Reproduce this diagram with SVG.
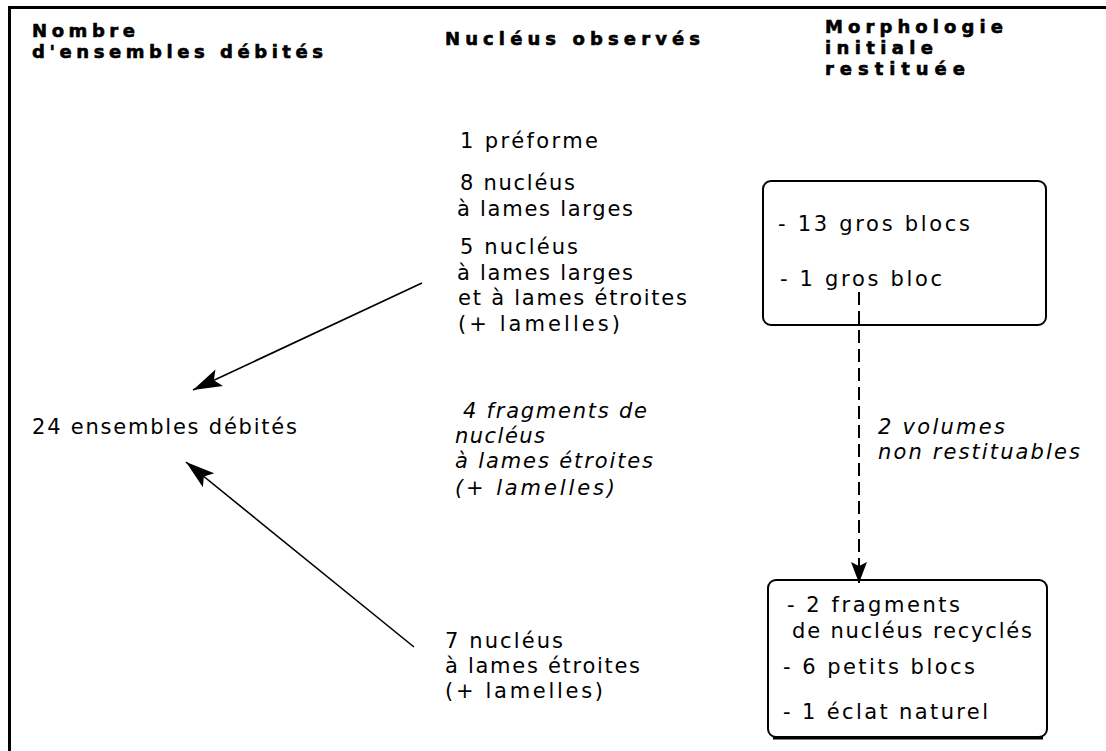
<svg xmlns="http://www.w3.org/2000/svg" width="1106" height="751" viewBox="0 0 1106 751">
<defs>
<style>
.h{font-family:"DejaVu Sans","Liberation Sans",sans-serif;font-weight:bold;font-size:18px;fill:#000;stroke:#000;stroke-width:0.6}
.t{font-family:"DejaVu Sans","Liberation Sans",sans-serif;font-size:21px;fill:#000}
.i{font-family:"DejaVu Sans","Liberation Sans",sans-serif;font-style:italic;font-size:21px;fill:#000}
.box{fill:none;stroke:#000;stroke-width:2}
.arr{stroke:#000;stroke-width:1.6;fill:none}
.dash{stroke:#000;stroke-width:2;fill:none;stroke-dasharray:13 6}
.frame{stroke:#000;stroke-width:3;fill:none}
</style>
<marker id="ah" markerUnits="userSpaceOnUse" markerWidth="32" markerHeight="22" refX="30" refY="11" orient="auto">
<path d="M30,11 L1,2 L7,11 L1,20 Z" fill="#000"/>
</marker>
<marker id="ahs" markerUnits="userSpaceOnUse" markerWidth="24" markerHeight="18" refX="22" refY="9" orient="auto">
<path d="M22,9 L1,1 L5,9 L1,17 Z" fill="#000"/>
</marker>
</defs>
<rect width="1106" height="751" fill="#fff"/>
<path class="frame" d="M9.5,751 V7.5 H1106"/>

<g id="headers">
<text class="h" x="32" y="37" textLength="103" lengthAdjust="spacing">Nombre</text>
<text class="h" x="32" y="58" textLength="291" lengthAdjust="spacing">d'ensembles débités</text>
<text class="h" x="445" y="45" textLength="255" lengthAdjust="spacing">Nucléus observés</text>
<text class="h" x="825" y="33" textLength="178" lengthAdjust="spacing">Morphologie</text>
<text class="h" x="825" y="54" textLength="108" lengthAdjust="spacing">initiale</text>
<text class="h" x="825" y="75" textLength="140" lengthAdjust="spacing">restituée</text>
</g>

<g id="total">
<text class="t" x="32" y="434" textLength="265" lengthAdjust="spacing">24 ensembles débités</text>
</g>

<g id="nucleus-top">
<text class="t" x="460" y="148" textLength="138" lengthAdjust="spacing">1 préforme</text>
<text class="t" x="460" y="190" textLength="115" lengthAdjust="spacing">8 nucléus</text>
<text class="t" x="457" y="216" textLength="176" lengthAdjust="spacing">à lames larges</text>
<text class="t" x="460" y="254" textLength="118" lengthAdjust="spacing">5 nucléus</text>
<text class="t" x="457" y="280" textLength="176" lengthAdjust="spacing">à lames larges</text>
<text class="t" x="458" y="305" textLength="229" lengthAdjust="spacing">et à lames étroites</text>
<text class="t" x="458" y="331" textLength="162" lengthAdjust="spacing">(+ lamelles)</text>
</g>

<g id="fragments">
<text class="i" x="463" y="418" textLength="184" lengthAdjust="spacing">4 fragments de</text>
<text class="i" x="455" y="443" textLength="90" lengthAdjust="spacing">nucléus</text>
<text class="i" x="455" y="468" textLength="198" lengthAdjust="spacing">à lames étroites</text>
<text class="i" x="455" y="495" textLength="160" lengthAdjust="spacing">(+ lamelles)</text>
</g>

<g id="nucleus-bottom">
<text class="t" x="445" y="648" textLength="118" lengthAdjust="spacing">7 nucléus</text>
<text class="t" x="445" y="673" textLength="195" lengthAdjust="spacing">à lames étroites</text>
<text class="t" x="445" y="698" textLength="158" lengthAdjust="spacing">(+ lamelles)</text>
</g>

<g id="box-gros-blocs">
<rect class="box" x="763" y="181" width="283" height="144" rx="8"/>
<text class="t" x="778" y="231" textLength="192" lengthAdjust="spacing">- 13 gros blocs</text>
<text class="t" x="780" y="286" textLength="162" lengthAdjust="spacing">- 1 gros bloc</text>
</g>

<g id="note-volumes">
<text class="i" x="878" y="434" textLength="127" lengthAdjust="spacing">2 volumes</text>
<text class="i" x="878" y="459" textLength="202" lengthAdjust="spacing">non restituables</text>
</g>

<g id="box-petits-blocs">
<rect class="box" x="768" y="580" width="279" height="157" rx="8"/>
<line x1="773" y1="738" x2="1043" y2="738" stroke="#000" stroke-width="3"/>
<text class="t" x="787" y="612" textLength="173" lengthAdjust="spacing">- 2 fragments</text>
<text class="t" x="792" y="638" textLength="240" lengthAdjust="spacing">de nucléus recyclés</text>
<text class="t" x="783" y="674" textLength="192" lengthAdjust="spacing">- 6 petits blocs</text>
<text class="t" x="783" y="719" textLength="205" lengthAdjust="spacing">- 1 éclat naturel</text>
</g>

<g id="connectors">
<line class="arr" x1="422" y1="283" x2="193" y2="390" marker-end="url(#ah)"/>
<line class="arr" x1="414" y1="647" x2="186" y2="462" marker-end="url(#ah)"/>
<line class="dash" x1="859" y1="292" x2="859" y2="583" marker-end="url(#ahs)"/>
</g>
</svg>
